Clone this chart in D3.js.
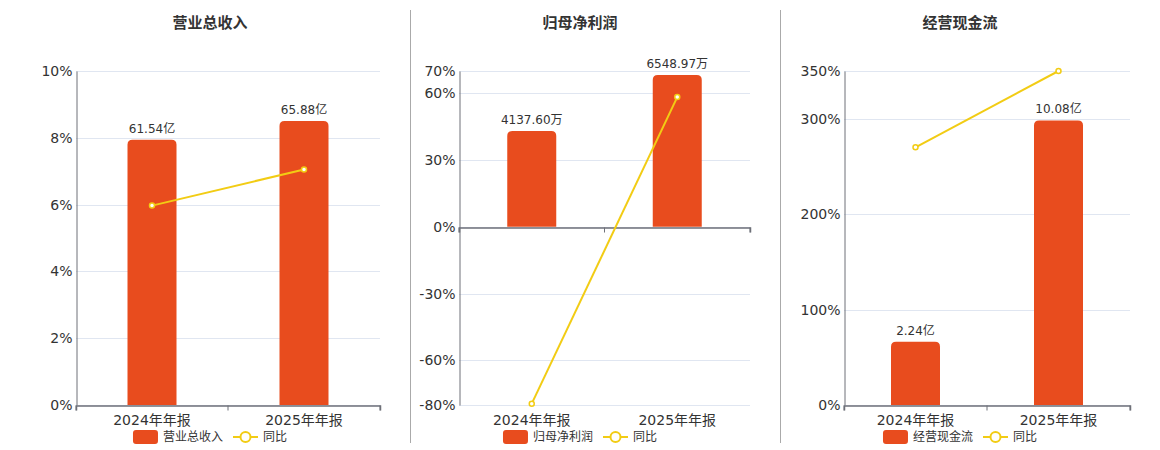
<!DOCTYPE html>
<html>
<head>
<meta charset="utf-8">
<script src="https://cdn.jsdelivr.net/npm/d3@7/dist/d3.min.js"></script>
<style>
  body { margin: 0; background: #fff; }
  text { font-family: "DejaVu Sans", "Noto Sans CJK SC", sans-serif; fill: #333; }
  .title { font-family: "Noto Sans CJK SC", sans-serif; font-weight: bold; font-size: 15px; }
</style>
</head>
<body>
<div id="chart"></div>
<script>
var W = 1160, H = 450;

// data
var periods = ["2024年年报", "2025年年报"];
var titles = ["营业总收入", "归母净利润", "经营现金流"];
var revenue = [61.54, 65.88];          // 亿
var netProfit = [4137.60, 6548.97];    // 万
var cashFlow = [2.24, 10.08];          // 亿
var revenueYoy = [5.97, 7.05];
var netProfitYoy = [-79.4, 58.28];
var cashFlowYoy = [270.0, 350.0];
var revenueTicks = [0, 2, 4, 6, 8, 10];
var netProfitTicks = [-80, -60, -30, 0, 30, 60, 70];
var cashFlowTicks = [0, 100, 200, 300, 350];

var panels = [ // layout per small chart
  {title: titles[0], values: revenue, yoy: revenueYoy, ticks: revenueTicks, unit: "亿", x0: 76, x1: 380, cx: 210, barMax: 77.5},
  {title: titles[1], values: netProfit, yoy: netProfitYoy, ticks: netProfitTicks, unit: "万", x0: 459, x1: 750, cx: 580, barMax: 6720},
  {title: titles[2], values: cashFlow, yoy: cashFlowYoy, ticks: cashFlowTicks, unit: "亿", x0: 844, x1: 1130, cx: 960, barMax: 11.83}
];

var plotTop = 71, plotBottom = 405;
var barColor = "#e84c1e", lineColor = "#f2cc14", axisColor = "#6e7079", gridColor = "#e0e6f1";

var svg = d3.select("#chart").append("svg")
    .attr("width", W).attr("height", H);

// separators between the charts
[410, 780].forEach(function(x){
  svg.append("line").attr("x1", x + 0.5).attr("x2", x + 0.5).attr("y1", 10).attr("y2", 443)
     .attr("stroke", "#aaa").attr("stroke-width", 1);
});

function topRoundedBar(x, y, w, h, r){ // rect with rounded top corners
  r = Math.min(r, h);
  return "M" + x + "," + (y + h) + "V" + (y + r) + "Q" + x + "," + y + " " + (x + r) + "," + y +
         "H" + (x + w - r) + "Q" + (x + w) + "," + y + " " + (x + w) + "," + (y + r) + "V" + (y + h) + "Z";
}

panels.forEach(function(p){
  var g = svg.append("g");
  var ext = d3.extent(p.ticks);
  var y = d3.scaleLinear().domain(ext).range([plotBottom, plotTop]);
  var x = d3.scaleBand().domain(periods).range([p.x0, p.x1]);
  var y0 = y(0);
  var yb = d3.scaleLinear().domain([0, p.barMax]).range([y0, plotTop]); // hidden value axis

  g.append("text").attr("class", "title").attr("x", p.cx).attr("y", 28)
   .attr("text-anchor", "middle").text(p.title);

  // grid
  g.selectAll(".grid").data(p.ticks).enter().append("line")
   .attr("x1", p.x0).attr("x2", p.x1)
   .attr("y1", function(d){ return Math.round(y(d)) + 0.5; }).attr("y2", function(d){ return Math.round(y(d)) + 0.5; })
   .attr("stroke", gridColor);

  // y axis
  var ya = g.append("g").attr("transform", "translate(" + (p.x0 + 0.5) + ",0)")
    .call(d3.axisLeft(y).tickValues(p.ticks).tickSize(0).tickPadding(4).tickFormat(function(d){ return d + "%"; }));
  ya.select(".domain").attr("stroke", axisColor);
  ya.selectAll("text").style("font-size", "14px").attr("fill", "#333");

  // bars
  g.selectAll(".bar").data(p.values).enter().append("path")
   .attr("d", function(d, i){
      var bw = 49;
      var bx = x(periods[i]) + x.bandwidth() / 2 - bw / 2;
      return topRoundedBar(bx, yb(d), bw, y0 - yb(d), 5);
   })
   .attr("fill", barColor);

  g.selectAll(".blabel").data(p.values).enter().append("text")
   .attr("x", function(d, i){ return x(periods[i]) + x.bandwidth() / 2; })
   .attr("y", function(d){ return yb(d) - 7; })
   .attr("text-anchor", "middle").style("font-size", "12px")
   .text(function(d){ return d.toFixed(2) + p.unit; });

  // x axis
  var xa = g.append("g").attr("transform", "translate(0," + (Math.round(y0) + 0.5) + ")")
    .call(d3.axisBottom(x).tickSize(5).tickFormat(""));
  xa.select(".domain").attr("stroke", axisColor).attr("stroke-width", 1.5);
  xa.selectAll(".tick line").attr("stroke", axisColor)
    .attr("transform", "translate(" + (-x.bandwidth() / 2) + ",0)");
  xa.append("line").attr("x1", p.x1).attr("x2", p.x1).attr("y1", 0).attr("y2", 5).attr("stroke", axisColor);

  g.selectAll(".xlabel").data(periods).enter().append("text")
   .attr("x", function(d){ return x(d) + x.bandwidth() / 2; })
   .attr("y", 425).attr("text-anchor", "middle").style("font-size", "14px")
   .text(function(d){ return d; });

  // yoy line
  var line = d3.line()
    .x(function(d, i){ return x(periods[i]) + x.bandwidth() / 2; })
    .y(function(d){ return y(d); });
  g.append("path").datum(p.yoy).attr("d", line)
   .attr("fill", "none").attr("stroke", lineColor).attr("stroke-width", 2);
  g.selectAll(".pt").data(p.yoy).enter().append("circle")
   .attr("cx", function(d, i){ return x(periods[i]) + x.bandwidth() / 2; })
   .attr("cy", function(d){ return y(d); })
   .attr("r", 2.5).attr("fill", "#fff").attr("stroke", lineColor).attr("stroke-width", 1.5);

  // legend
  var lg = g.append("g");
  lg.append("rect").attr("x", 0).attr("y", 430).attr("width", 25).attr("height", 14).attr("rx", 3).attr("fill", barColor);
  var t1 = lg.append("text").attr("x", 30).attr("y", 441).style("font-size", "12px").text(p.title);
  var lx = 30 + t1.node().getComputedTextLength() + 10;
  lg.append("line").attr("x1", lx).attr("x2", lx + 25).attr("y1", 437).attr("y2", 437)
    .attr("stroke", lineColor).attr("stroke-width", 2);
  lg.append("circle").attr("cx", lx + 12.5).attr("cy", 437).attr("r", 5)
    .attr("fill", "#fff").attr("stroke", lineColor).attr("stroke-width", 2);
  var t2 = lg.append("text").attr("x", lx + 30).attr("y", 441).style("font-size", "12px").text("同比");
  var lw = lx + 30 + t2.node().getComputedTextLength();
  lg.attr("transform", "translate(" + (p.cx - lw / 2) + ",0)");
});
</script>
</body>
</html>
